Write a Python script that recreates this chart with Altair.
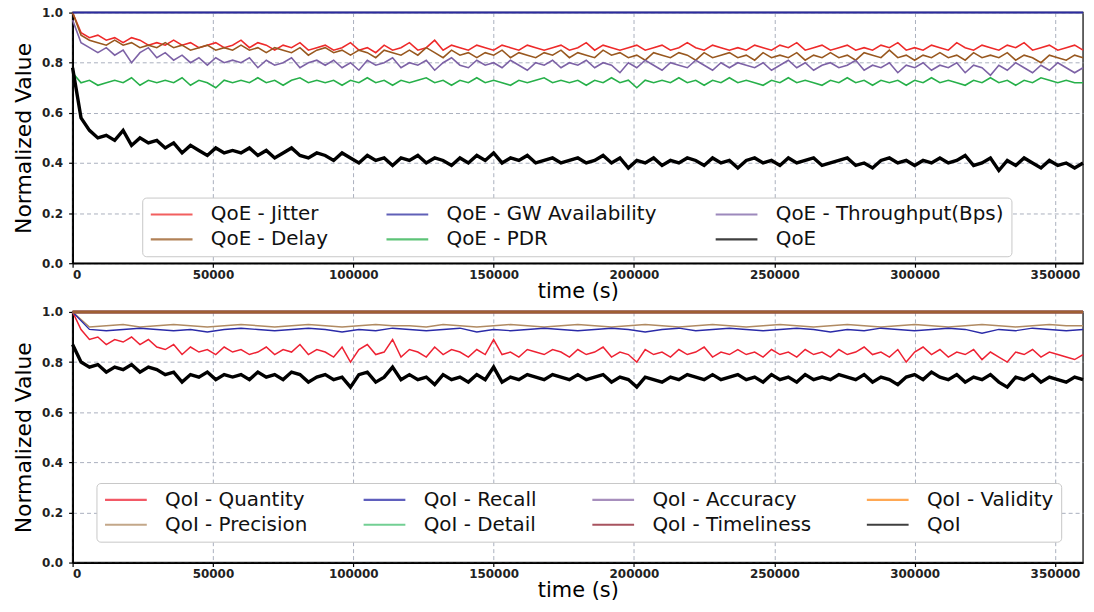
import altair as alt
import pandas as pd

# ---------------- time axes ----------------
T_FINE = list(range(0, 360001, 3000))     # 121 samples
T_MID = list(range(0, 360001, 6000))      # 61 samples
T_FLAT = [0, 360000]

# ---------------- QoE panel ----------------
QOE_JITTER = [1.00, 0.92, 0.90, 0.91, 0.89, 0.90, 0.88, 0.90, 0.89, 0.87,
              0.88, 0.87, 0.89, 0.87, 0.88, 0.86, 0.87, 0.88, 0.86, 0.87,
              0.89, 0.86, 0.88, 0.87, 0.85, 0.87, 0.86, 0.88, 0.85, 0.86,
              0.87, 0.85, 0.86, 0.88, 0.85, 0.86, 0.84, 0.87, 0.85, 0.86,
              0.88, 0.85, 0.86, 0.89, 0.85, 0.87, 0.86, 0.85, 0.87, 0.86,
              0.85, 0.87, 0.86, 0.85, 0.87, 0.86, 0.85, 0.86, 0.87, 0.85,
              0.86, 0.88, 0.85, 0.87, 0.86, 0.85, 0.86, 0.87, 0.85, 0.86,
              0.87, 0.85, 0.86, 0.88, 0.86, 0.85, 0.87, 0.86, 0.85, 0.86,
              0.85, 0.87, 0.86, 0.85, 0.87, 0.86, 0.88, 0.85, 0.86, 0.87,
              0.85, 0.86, 0.87, 0.85, 0.86, 0.85, 0.87, 0.86, 0.88, 0.85,
              0.86, 0.85, 0.87, 0.86, 0.85, 0.88, 0.86, 0.85, 0.87, 0.86,
              0.85, 0.87, 0.86, 0.88, 0.85, 0.86, 0.87, 0.85, 0.86, 0.87,
              0.85]
QOE_DELAY = [1.00, 0.91, 0.89, 0.88, 0.87, 0.89, 0.87, 0.88, 0.86, 0.87,
             0.86, 0.88, 0.86, 0.87, 0.85, 0.86, 0.87, 0.85, 0.86, 0.85,
             0.87, 0.85, 0.86, 0.84, 0.86, 0.85, 0.84, 0.86, 0.83, 0.85,
             0.86, 0.84, 0.85, 0.83, 0.85, 0.84, 0.82, 0.85, 0.84, 0.83,
             0.85, 0.83, 0.86, 0.84, 0.82, 0.85, 0.83, 0.84, 0.82, 0.84,
             0.83, 0.85, 0.82, 0.84, 0.83, 0.82, 0.84, 0.83, 0.85, 0.82,
             0.84, 0.83, 0.82, 0.85, 0.83, 0.84, 0.82, 0.83, 0.81, 0.84,
             0.83, 0.82, 0.84, 0.83, 0.81, 0.84, 0.82, 0.83, 0.84, 0.82,
             0.83, 0.81, 0.84, 0.82, 0.83, 0.82, 0.84, 0.81, 0.83, 0.82,
             0.84, 0.82, 0.83, 0.81, 0.84, 0.83, 0.82, 0.85, 0.82, 0.83,
             0.81, 0.83, 0.82, 0.84, 0.82, 0.83, 0.81, 0.84, 0.82, 0.83,
             0.82, 0.84, 0.81, 0.83, 0.82, 0.80, 0.83, 0.82, 0.81, 0.83,
             0.82]
QOE_THROUGHPUT = [0.97, 0.88, 0.86, 0.84, 0.86, 0.83, 0.85, 0.80, 0.84, 0.86,
                  0.82, 0.84, 0.81, 0.83, 0.80, 0.82, 0.79, 0.82, 0.80, 0.81,
                  0.80, 0.82, 0.78, 0.81, 0.79, 0.80, 0.82, 0.78, 0.80, 0.81,
                  0.79, 0.81, 0.78, 0.80, 0.77, 0.81, 0.79, 0.80, 0.82, 0.78,
                  0.80, 0.79, 0.81, 0.77, 0.80, 0.82, 0.79, 0.78, 0.81, 0.79,
                  0.80, 0.78, 0.81, 0.79, 0.77, 0.80, 0.79, 0.81, 0.78, 0.80,
                  0.79, 0.81, 0.78, 0.80, 0.79, 0.76, 0.80, 0.78, 0.81, 0.79,
                  0.77, 0.80, 0.79, 0.78, 0.81, 0.79, 0.77, 0.80, 0.78, 0.80,
                  0.79, 0.78, 0.80, 0.77, 0.79, 0.81, 0.78, 0.80, 0.77, 0.79,
                  0.80, 0.78, 0.79, 0.81, 0.77, 0.79, 0.78, 0.80, 0.76, 0.79,
                  0.78, 0.80, 0.77, 0.79, 0.78, 0.80, 0.76, 0.79, 0.78, 0.75,
                  0.79, 0.77, 0.80, 0.78, 0.76, 0.79, 0.77, 0.80, 0.78, 0.76,
                  0.78]
QOE_PDR = [0.76, 0.72, 0.73, 0.71, 0.72, 0.73, 0.72, 0.74, 0.71, 0.73,
           0.72, 0.73, 0.72, 0.74, 0.71, 0.73, 0.72, 0.70, 0.73, 0.72,
           0.73, 0.72, 0.74, 0.72, 0.73, 0.71, 0.73, 0.74, 0.72, 0.73,
           0.72, 0.73, 0.71, 0.73, 0.72, 0.74, 0.72, 0.73, 0.71, 0.73,
           0.72, 0.73, 0.74, 0.72, 0.73, 0.71, 0.73, 0.72, 0.74, 0.72,
           0.73, 0.72, 0.71, 0.73, 0.72, 0.73, 0.74, 0.72, 0.73, 0.72,
           0.73, 0.71, 0.73, 0.72, 0.74, 0.72, 0.73, 0.70, 0.73, 0.72,
           0.73, 0.72, 0.74, 0.72, 0.73, 0.71, 0.73, 0.72, 0.74, 0.72,
           0.73, 0.72, 0.71, 0.73, 0.72, 0.74, 0.72, 0.73, 0.72, 0.71,
           0.73, 0.72, 0.74, 0.72, 0.73, 0.71, 0.73, 0.72, 0.73, 0.71,
           0.73, 0.72, 0.74, 0.72, 0.73, 0.72, 0.71, 0.73, 0.72, 0.74,
           0.72, 0.73, 0.71, 0.73, 0.72, 0.74, 0.73, 0.72, 0.73, 0.72,
           0.72]
QOE_TOTAL = [0.78, 0.58, 0.53, 0.50, 0.51, 0.49, 0.53, 0.47, 0.50, 0.48,
             0.49, 0.46, 0.48, 0.44, 0.47, 0.45, 0.43, 0.46, 0.44, 0.45,
             0.44, 0.46, 0.43, 0.45, 0.42, 0.44, 0.46, 0.43, 0.42, 0.44,
             0.43, 0.41, 0.44, 0.42, 0.40, 0.43, 0.41, 0.42, 0.39, 0.42,
             0.41, 0.43, 0.40, 0.42, 0.41, 0.39, 0.42, 0.40, 0.43, 0.41,
             0.44, 0.40, 0.42, 0.41, 0.43, 0.40, 0.41, 0.42, 0.40, 0.41,
             0.42, 0.40, 0.41, 0.43, 0.40, 0.42, 0.38, 0.41, 0.40, 0.42,
             0.39, 0.41, 0.40, 0.42, 0.41, 0.39, 0.42, 0.40, 0.41, 0.38,
             0.41, 0.42, 0.40, 0.41, 0.39, 0.42, 0.40, 0.41, 0.42, 0.39,
             0.40, 0.41, 0.42, 0.39, 0.40, 0.38, 0.41, 0.42, 0.40, 0.41,
             0.39, 0.41, 0.40, 0.42, 0.40, 0.41, 0.43, 0.39, 0.40, 0.42,
             0.37, 0.41, 0.39, 0.42, 0.40, 0.38, 0.41, 0.39, 0.40, 0.38,
             0.40]
QOE_GW = [1.0, 1.0]

# ---------------- QoI panel ----------------
QOI_QUANTITY = [1.00, 0.93, 0.89, 0.90, 0.87, 0.89, 0.88, 0.90, 0.87, 0.89,
                0.86, 0.85, 0.87, 0.83, 0.86, 0.84, 0.85, 0.83, 0.86, 0.84,
                0.85, 0.83, 0.84, 0.86, 0.83, 0.85, 0.84, 0.87, 0.83, 0.85,
                0.84, 0.82, 0.86, 0.80, 0.85, 0.87, 0.83, 0.84, 0.89, 0.82,
                0.85, 0.84, 0.82, 0.86, 0.83, 0.85, 0.84, 0.82, 0.85, 0.83,
                0.89, 0.83, 0.84, 0.82, 0.85, 0.84, 0.83, 0.85, 0.84, 0.82,
                0.85, 0.83, 0.84, 0.86, 0.82, 0.84, 0.83, 0.80, 0.85, 0.83,
                0.84, 0.82, 0.85, 0.83, 0.84, 0.86, 0.82, 0.84, 0.83, 0.85,
                0.83, 0.84, 0.82, 0.85, 0.83, 0.84, 0.82, 0.85, 0.83, 0.84,
                0.82, 0.85, 0.83, 0.84, 0.86, 0.83, 0.84, 0.82, 0.85, 0.80,
                0.84, 0.86, 0.83, 0.85, 0.82, 0.84, 0.83, 0.85, 0.81, 0.84,
                0.82, 0.80, 0.84, 0.83, 0.85, 0.82, 0.84, 0.83, 0.82, 0.81,
                0.83]
QOI_TOTAL = [0.87, 0.80, 0.78, 0.79, 0.76, 0.78, 0.77, 0.79, 0.76, 0.78,
             0.77, 0.75, 0.76, 0.72, 0.75, 0.74, 0.76, 0.73, 0.75, 0.74,
             0.75, 0.73, 0.76, 0.74, 0.75, 0.73, 0.76, 0.75, 0.72, 0.74,
             0.75, 0.73, 0.74, 0.70, 0.75, 0.76, 0.72, 0.74, 0.78, 0.73,
             0.75, 0.73, 0.74, 0.71, 0.75, 0.73, 0.74, 0.72, 0.75, 0.73,
             0.78, 0.72, 0.74, 0.73, 0.75, 0.74, 0.73, 0.75, 0.74, 0.73,
             0.75, 0.73, 0.74, 0.75, 0.72, 0.74, 0.73, 0.70, 0.74, 0.73,
             0.72, 0.74, 0.73, 0.75, 0.74, 0.73, 0.75, 0.73, 0.74, 0.75,
             0.73, 0.74, 0.72, 0.75, 0.73, 0.74, 0.72, 0.75, 0.73, 0.74,
             0.73, 0.75, 0.74, 0.73, 0.75, 0.72, 0.74, 0.73, 0.71, 0.74,
             0.75, 0.73, 0.76, 0.74, 0.73, 0.75, 0.72, 0.74, 0.73, 0.75,
             0.72, 0.70, 0.74, 0.73, 0.75, 0.72, 0.74, 0.73, 0.72, 0.74,
             0.73]
QOI_PRECISION = [1.00, 0.94, 0.945, 0.95, 0.94, 0.945, 0.95, 0.945, 0.94, 0.945,
                 0.95, 0.945, 0.94, 0.945, 0.95, 0.945, 0.94, 0.945, 0.95, 0.945,
                 0.945, 0.94, 0.95, 0.945, 0.94, 0.945, 0.95, 0.945, 0.94, 0.945,
                 0.95, 0.945, 0.94, 0.945, 0.95, 0.945, 0.94, 0.945, 0.95, 0.945,
                 0.94, 0.945, 0.95, 0.945, 0.94, 0.945, 0.95, 0.945, 0.94, 0.945,
                 0.95, 0.945, 0.94, 0.945, 0.95, 0.945, 0.94, 0.945, 0.95, 0.945,
                 0.945]
QOI_RECALL = [1.00, 0.93, 0.925, 0.93, 0.935, 0.93, 0.925, 0.93, 0.92, 0.93,
              0.935, 0.93, 0.925, 0.93, 0.935, 0.93, 0.92, 0.93, 0.925, 0.935,
              0.93, 0.925, 0.93, 0.935, 0.92, 0.93, 0.925, 0.93, 0.935, 0.93,
              0.925, 0.93, 0.935, 0.93, 0.92, 0.93, 0.935, 0.925, 0.93, 0.935,
              0.93, 0.925, 0.93, 0.935, 0.93, 0.92, 0.93, 0.925, 0.935, 0.93,
              0.925, 0.93, 0.935, 0.93, 0.915, 0.93, 0.925, 0.935, 0.93, 0.925,
              0.93]
QOI_ACCURACY = [1.0, 1.0]
QOI_DETAIL = [1.0, 1.0]
QOI_TIMELINESS = [1.0, 1.0]
QOI_VALIDITY = [1.0, 1.0]

# (name, times, values, colour, width, opacity) in drawing order
TOP_SERIES = [
    ("QoE - Jitter", T_FINE, QOE_JITTER, "#ee2a2a", 1.6, 1.0),
    ("QoE - Delay", T_FINE, QOE_DELAY, "#98581f", 1.6, 1.0),
    ("QoE - GW Availability", T_FLAT, QOE_GW, "#2c2ca0", 2.0, 1.0),
    ("QoE - PDR", T_FINE, QOE_PDR, "#27b04a", 1.6, 1.0),
    ("QoE - Throughput(Bps)", T_FINE, QOE_THROUGHPUT, "#7d62a6", 1.6, 1.0),
    ("QoE", T_FINE, QOE_TOTAL, "#000000", 3.4, 1.0),
]
# legend fills column by column
TOP_LEGEND_ORDER = ["QoE - Jitter", "QoE - Delay", "QoE - GW Availability",
                    "QoE - PDR", "QoE - Throughput(Bps)", "QoE"]

BOTTOM_SERIES = [
    ("QoI - Quantity", T_FINE, QOI_QUANTITY, "#ee2233", 1.5, 1.0),
    ("QoI - Precision", T_MID, QOI_PRECISION, "#b08a62", 1.5, 1.0),
    ("QoI - Recall", T_MID, QOI_RECALL, "#2a2aa8", 1.3, 1.0),
    ("QoI - Accuracy", T_FLAT, QOI_ACCURACY, "#8a6aa8", 3.0, 1.0),
    ("QoI - Timeliness", T_FLAT, QOI_TIMELINESS, "#8b1a2a", 3.0, 1.0),
    ("QoI - Detail", T_FLAT, QOI_DETAIL, "#44c070", 3.0, 0.3),
    ("QoI - Validity", T_FLAT, QOI_VALIDITY, "#ff8c1a", 3.0, 0.3),
    ("QoI", T_FINE, QOI_TOTAL, "#000000", 3.4, 1.0),
]
BOTTOM_LEGEND_ORDER = ["QoI - Quantity", "QoI - Precision", "QoI - Recall", "QoI - Detail",
                       "QoI - Accuracy", "QoI - Timeliness", "QoI - Validity", "QoI"]

X_TICKS = [0, 50000, 100000, 150000, 200000, 250000, 300000, 350000]
Y_TICKS = [0.0, 0.2, 0.4, 0.6, 0.8, 1.0]

PLOT_W = 1016
PLOT_H = 252


def panel(series, order, columns, legend_x, legend_y, col_pad):
    colours = {s[0]: s[3] for s in series}
    scale = alt.Scale(domain=order, range=[colours[n] for n in order])
    legend = alt.Legend(
        title=None, orient="none", legendX=legend_x, legendY=legend_y,
        columns=columns, columnPadding=col_pad, rowPadding=5,
        labelFont="DejaVu Sans", labelFontSize=20, labelColor="#111111",
        labelLimit=500, labelOffset=42,
        symbolType="M-1,0H4", symbolSize=282, symbolStrokeWidth=2.2,
        symbolOpacity=0.75,
        padding=7, fillColor="white", strokeColor="#c8c8c8", cornerRadius=4,
    )
    layers = []
    for name, times, vals, col, w, op in series:
        df = pd.DataFrame({"t": times, "v": vals, "series": name})
        layers.append(
            alt.Chart(df).mark_line(strokeWidth=w, opacity=op, clip=False).encode(
                x=alt.X("t:Q", scale=alt.Scale(domain=[0, 360000], nice=False, zero=False),
                        axis=alt.Axis(values=X_TICKS, format="d", title="time (s)",
                                      labelOverlap=False)),
                y=alt.Y("v:Q", scale=alt.Scale(domain=[0, 1], nice=False),
                        axis=alt.Axis(values=Y_TICKS, format=".1f", title="Normalized Value")),
                color=alt.Color("series:N", scale=scale, legend=legend),
            )
        )
    return alt.layer(*layers).properties(width=PLOT_W, height=PLOT_H)


top = panel(TOP_SERIES, TOP_LEGEND_ORDER, 3, 70, 186, 54)
bottom = panel(BOTTOM_SERIES, BOTTOM_LEGEND_ORDER, 4, 24, 172, 51)

chart = alt.vconcat(top, bottom, spacing=3).resolve_scale(
    color="independent", x="independent", y="independent"
).resolve_legend(
    color="independent"
).properties(
    padding={"left": 11, "top": 4, "right": 3, "bottom": 0},
    background="white",
).configure_axis(
    labelFont="DejaVu Sans", labelFontWeight="bold", labelFontSize=12, labelColor="#222222",
    tickSize=4, tickColor="#000000", tickWidth=1.2,
    domainColor="#000000", domainWidth=1.8,
    grid=True, gridColor="#a9afbd", gridDash=[4, 3], gridWidth=1,
    titleFont="DejaVu Sans", titleFontWeight="normal", titleColor="#000000",
).configure_axisX(
    titleFontSize=21, titlePadding=0, labelPadding=2,
).configure_axisY(
    titleFontSize=22, titlePadding=6, labelPadding=6,
).configure_view(
    stroke="#333333", strokeWidth=1.5,
)

chart.save("out.html", embed_options={"renderer": "svg", "actions": False})
